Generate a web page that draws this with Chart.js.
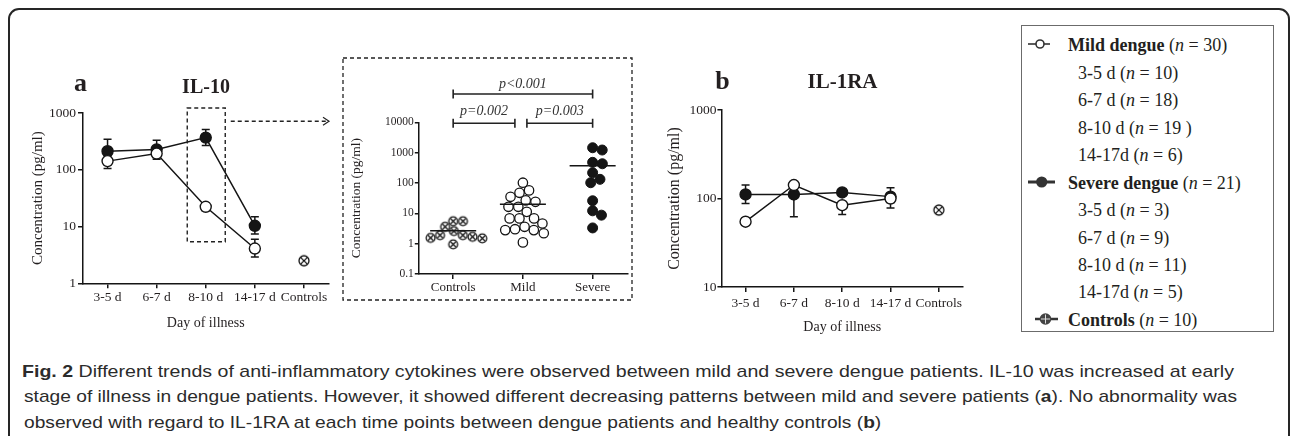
<!DOCTYPE html>
<html>
<head>
<meta charset="utf-8">
<script src="https://cdn.jsdelivr.net/npm/chart.js@4.4.1/dist/chart.umd.min.js"></script>
<style>
  html, body { margin: 0; padding: 0; background: #fff; }
  body { width: 1292px; height: 436px; position: relative; overflow: hidden; }
  .frame { position: absolute; left: 8px; top: 8px; width: 1282px; height: 480px; box-sizing: border-box;
           border: 2px solid #262626; border-radius: 11px; }
  canvas.cv { position: absolute; }
  #legendBox { position: absolute; left: 1021px; top: 25px; width: 253px; height: 307px; box-sizing: border-box;
               border: 1px solid #6b6b6b; }
  .row { position: absolute; white-space: nowrap; font-family: "Liberation Serif", "Times New Roman", serif;
         font-size: 18px; line-height: 20px; color: #231f20; }
  .cap { position: absolute; white-space: nowrap; font-family: "Liberation Sans Narrow", "Liberation Sans", sans-serif;
         font-size: 17px; line-height: 20px; color: #2b2b2b; transform-origin: 0 0; }
</style>
</head>
<body>
<div class="frame"></div>
<canvas class="cv" id="chartA" width="340" height="340" style="left:0;top:0"></canvas>
<canvas class="cv" id="chartInset" width="300" height="255" style="left:335px;top:50px"></canvas>
<canvas class="cv" id="chartB" width="330" height="340" style="left:640px;top:0"></canvas>
<div id="legendBox"></div>
<script>
// categories
const days = ['3-5 d', '6-7 d', '8-10 d', '14-17 d', 'Controls'];
const insetGroups = ['Controls', 'Mild', 'Severe'];

// IL-10 (pg/ml) by day of illness, mean with error bars
const il10Mild = [142, 193, 22.3, 4.1];
const il10MildHi = [175, 232, 26, 6.0];
const il10MildLo = [105, 153, 19, 2.9];
const il10Severe = [212, 228, 369, 10.3];
const il10SevereHi = [345, 331, 510, 14.9];
const il10SevereLo = [150, 165, 267, 7.4];
const il10Controls = 2.5;

// IL-10 at 8-10 d, individual patients
const insetControls = [5.5, 3.6, 5.5, 2.6, 1.9, 1.55, 0.95, 1.5, 1.68, 1.9];
const insetMild = [102, 47.5, 57, 35, 26.7, 24, 16.4, 16.4, 11.2, 6.8, 6.8, 6.8, 4.6, 3.0, 2.8, 3.6, 2.8, 2.2, 1.1];
const insetSevere = [1220, 1450, 479, 430, 217, 132, 102, 25.9, 12.1, 8.7, 3.3];
const pTests = [
  { from: 0, to: 1, text: 'p=0.002' },
  { from: 1, to: 2, text: 'p=0.003' },
  { from: 0, to: 2, text: 'p<0.001' }
];

// IL-1RA (pg/ml)
const raMild = [54.7, 142, 84, 100];
const raMildHi = [58, 150, 92, 110];
const raMildLo = [51, 132, 66, 90];
const raSevere = [111, 111, 117, 105];
const raSevereHi = [142, 126, 128, 132];
const raSevereLo = [88, 62, 108, 78];
const raControls = 74;

const aTicks = [1, 10, 100, 1000];
const bTicks = [10, 100, 1000];
const insetTicks = [0.1, 1, 10, 100, 1000, 10000];

const legendGroups = [
  { name: 'Mild dengue', n: 30, icon: 'mild', items: [['3-5 d', '10'], ['6-7 d', '18'], ['8-10 d', '19 '], ['14-17d', '6']] },
  { name: 'Severe dengue', n: 21, icon: 'severe', items: [['3-5 d', '3'], ['6-7 d', '9'], ['8-10 d', '11'], ['14-17d', '5']] },
  { name: 'Controls', n: 10, icon: 'controls', items: [] }
];

const serif = '"Liberation Serif", "Times New Roman", serif';
const ink = '#231f20';
const axisInk = '#151515';

// circle with a cross, used for the controls
function ctrlMarker(r) {
  const c = document.createElement('canvas');
  const s = Math.ceil(r * 2 + 4);
  c.width = c.height = s;
  const g = c.getContext('2d');
  const m = s / 2;
  g.fillStyle = '#fff'; g.strokeStyle = '#111'; g.lineWidth = 1.3;
  g.beginPath(); g.arc(m, m, r, 0, Math.PI * 2); g.fill(); g.stroke();
  const d = r * 0.68;
  g.beginPath();
  g.moveTo(m - d, m - d); g.lineTo(m + d, m + d);
  g.moveTo(m + d, m - d); g.lineTo(m - d, m + d);
  g.stroke();
  return c;
}

// simple beeswarm so the dots of one group don't sit on top of each other
function swarm(values, slot, pxPerUnit, pxPerDecade, dia) {
  const placed = [];
  const out = new Array(values.length);
  const order = values.map((v, i) => i).sort((a, b) => values[b] - values[a]);
  order.forEach(i => {
    const y = Math.log10(values[i]) * pxPerDecade;
    const cands = [0];
    placed.forEach(p => {
      const dy = Math.abs(p.y - y);
      if (dy < dia) {
        const w = Math.sqrt(dia * dia - dy * dy);
        cands.push(p.x + w, p.x - w);
      }
    });
    cands.sort((a, b) => Math.abs(a) - Math.abs(b));
    const x = cands.find(c => placed.every(p => Math.hypot(p.x - c, p.y - y) >= dia - 0.01));
    placed.push({ x, y });
    out[i] = { x: slot + x / pxPerUnit, y: values[i] };
  });
  return out;
}

const mean = arr => arr.reduce((s, v) => s + v, 0) / arr.length;

const errorBars = {
  id: 'errorBars',
  beforeDatasetsDraw(chart, args, opts) {
    const ctx = chart.ctx, y = chart.scales.y;
    ctx.save();
    ctx.strokeStyle = axisInk; ctx.lineWidth = 1.5;
    (opts.bars || []).forEach(b => {
      chart.getDatasetMeta(b.dataset).data.forEach((pt, i) => {
        if (b.hi[i] == null) return;
        const x = pt.x, yh = y.getPixelForValue(b.hi[i]), yl = y.getPixelForValue(b.lo[i]);
        ctx.beginPath();
        ctx.moveTo(x, yh); ctx.lineTo(x, yl);
        ctx.moveTo(x - 4, yh); ctx.lineTo(x + 4, yh);
        ctx.moveTo(x - 4, yl); ctx.lineTo(x + 4, yl);
        ctx.stroke();
      });
    });
    ctx.restore();
  }
};

const panelText = {
  id: 'panelText',
  afterDraw(chart, args, opts) {
    const ctx = chart.ctx;
    ctx.save();
    ctx.fillStyle = ink; ctx.textAlign = 'center'; ctx.textBaseline = 'alphabetic';
    (opts.items || []).forEach(t => {
      ctx.font = t.font;
      ctx.fillText(t.text, t.x, t.y);
    });
    ctx.restore();
  }
};

// dashed zoom box round 8-10 d and the arrow towards the inset
const zoomBox = {
  id: 'zoomBox',
  afterDraw(chart) {
    const { ctx, chartArea: ca, scales: { x, y } } = chart;
    const xc = x.getPixelForValue(2);
    const top = ca.top - 5, bottom = y.getPixelForValue(5.4);
    ctx.save();
    ctx.strokeStyle = '#222'; ctx.lineWidth = 1.4; ctx.setLineDash([4, 3]);
    ctx.strokeRect(xc - 18.5, top, 38, bottom - top);
    const ay = ca.top + 8.3, ax1 = ca.right + 0.5;
    ctx.beginPath(); ctx.moveTo(xc + 25, ay); ctx.lineTo(ax1, ay); ctx.stroke();
    ctx.setLineDash([]); ctx.lineWidth = 1.2;
    ctx.beginPath();
    ctx.moveTo(ax1 - 6, ay - 4); ctx.lineTo(ax1, ay); ctx.lineTo(ax1 - 6, ay + 4);
    ctx.stroke();
    ctx.restore();
  }
};

const insetDeco = {
  id: 'insetDeco',
  afterDraw(chart) {
    const { ctx, chartArea: ca, scales: { x } } = chart;
    ctx.save();
    ctx.strokeStyle = '#222'; ctx.lineWidth = 1.3; ctx.setLineDash([4, 3]);
    ctx.strokeRect(ca.left - 75.3, ca.top - 64.3, (ca.right + 4.5) - (ca.left - 75.3), (ca.bottom + 26) - (ca.top - 64.3));
    ctx.setLineDash([]);
    ctx.lineWidth = 1.6; ctx.strokeStyle = '#222';
    ctx.fillStyle = '#333'; ctx.font = 'italic 14px ' + serif; ctx.textAlign = 'center';
    pTests.forEach(p => {
      const wide = p.to - p.from > 1;
      const yy = wide ? ca.top - 28.3 : ca.top + 1;
      let x0 = x.getPixelForValue(p.from), x1 = x.getPixelForValue(p.to);
      if (!wide && p.from === 0) x1 -= 8;
      if (!wide && p.from === 1) x0 += 4;
      ctx.beginPath();
      ctx.moveTo(x0, yy); ctx.lineTo(x1, yy);
      ctx.moveTo(x0, yy - 4.5); ctx.lineTo(x0, yy + 4.5);
      ctx.moveTo(x1, yy - 4.5); ctx.lineTo(x1, yy + 4.5);
      ctx.stroke();
      ctx.fillText(p.text, (x0 + x1) / 2, yy - (wide ? 6 : 8));
    });
    ctx.restore();
  }
};

function axisX(opt) {
  return {
    type: 'category', offset: true,
    grid: { display: true, drawOnChartArea: false, offset: false, tickLength: 5, color: axisInk, lineWidth: 1.5 },
    border: { color: axisInk, width: 1.5 },
    ticks: { font: { family: serif, size: 13.5 }, color: ink, padding: opt.pad, maxRotation: 0, autoSkip: false },
    title: { display: true, text: 'Day of illness', font: { family: serif, size: 14 }, color: ink, padding: { top: 0, bottom: opt.titlePad } },
    afterFit: s => { s.height = opt.height; }
  };
}

function axisLog(opt) {
  return {
    type: 'logarithmic', min: opt.ticks[0], max: opt.ticks[opt.ticks.length - 1],
    afterBuildTicks: s => { s.ticks = opt.ticks.map(v => ({ value: v })); },
    grid: { display: true, drawOnChartArea: false, tickLength: opt.tickLen, color: axisInk, lineWidth: 1.5 },
    border: { color: axisInk, width: 1.5 },
    ticks: { callback: v => String(v), font: { family: serif, size: opt.size }, color: ink, padding: opt.pad },
    title: { display: true, text: 'Concentration (pg/ml)', font: { family: serif, size: opt.titleSize }, color: ink, padding: { top: opt.titlePad, bottom: 0 } },
    afterFit: s => { s.width = opt.width; }
  };
}

function lineSet(label, data, filled) {
  return {
    label, data, borderColor: axisInk, borderWidth: 1.5, tension: 0,
    pointRadius: 5.5, pointBorderWidth: 1.4, pointBorderColor: axisInk,
    pointBackgroundColor: filled ? axisInk : '#fff'
  };
}

const base = { responsive: false, animation: false, maintainAspectRatio: false };

// panel a: IL-10
new Chart(document.getElementById('chartA'), {
  type: 'line',
  data: {
    labels: days,
    datasets: [
      lineSet('Mild dengue', il10Mild, false),
      lineSet('Severe dengue', il10Severe, true),
      { label: 'Controls', data: [null, null, null, null, il10Controls], showLine: false, pointStyle: ctrlMarker(5), pointRadius: 6 }
    ]
  },
  options: {
    ...base,
    layout: { padding: { left: 28, right: 11.5, top: 113, bottom: 0 } },
    scales: {
      x: axisX({ pad: 1, height: 56.7, titlePad: 8.6 }),
      y: axisLog({ ticks: aTicks, tickLen: 5, size: 13.5, pad: 2, titleSize: 15, titlePad: 1, width: 55 })
    },
    plugins: {
      legend: { display: false }, tooltip: { enabled: false },
      errorBars: { bars: [{ dataset: 0, hi: il10MildHi, lo: il10MildLo }, { dataset: 1, hi: il10SevereHi, lo: il10SevereLo }] },
      panelText: { items: [
        { text: 'a', x: 80.5, y: 91, font: 'bold 26px ' + serif },
        { text: 'IL-10', x: 206, y: 92.7, font: 'bold 20px ' + serif }
      ] }
    }
  },
  plugins: [errorBars, panelText, zoomBox]
});

// inset: individual values at 8-10 d
const insetPx = { unit: 69.5, decade: 30.3, dia: 9.8 };
new Chart(document.getElementById('chartInset'), {
  type: 'scatter',
  data: {
    datasets: [
      { label: 'Controls', data: swarm(insetControls, 0, insetPx.unit, insetPx.decade, insetPx.dia), pointStyle: ctrlMarker(4.4), pointRadius: 5 },
      { label: 'Mild', data: swarm(insetMild, 1, insetPx.unit, insetPx.decade, insetPx.dia), pointRadius: 4.7, pointBorderWidth: 1.3, pointBorderColor: axisInk, pointBackgroundColor: '#fff' },
      { label: 'Severe', data: swarm(insetSevere, 2, insetPx.unit, insetPx.decade, insetPx.dia), pointRadius: 5, pointBorderWidth: 1, pointBorderColor: axisInk, pointBackgroundColor: axisInk },
      ...[insetControls, insetMild, insetSevere].map((vals, i) => ({
        type: 'line', data: [{ x: i - 0.33, y: mean(vals) }, { x: i + 0.33, y: mean(vals) }],
        borderColor: axisInk, borderWidth: 1.5, pointRadius: 0, order: -1
      }))
    ]
  },
  options: {
    ...base,
    layout: { padding: { left: 12, right: 7.5, top: 72.3, bottom: 0 } },
    scales: {
      x: {
        type: 'linear', min: -0.5, max: 2.5,
        afterBuildTicks: s => { s.ticks = insetGroups.map((g, i) => ({ value: i })); },
        grid: { display: true, drawOnChartArea: false, tickLength: 5, color: axisInk, lineWidth: 1.5 },
        border: { color: axisInk, width: 1.5 },
        ticks: { callback: v => insetGroups[v], font: { family: serif, size: 13 }, color: ink, padding: 1, maxRotation: 0 },
        afterFit: s => { s.height = 31; }
      },
      y: axisLog({ ticks: insetTicks, tickLen: 3.5, size: 11.5, pad: 1, titleSize: 13.5, titlePad: 1, width: 71.3 })
    },
    plugins: { legend: { display: false }, tooltip: { enabled: false } }
  },
  plugins: [insetDeco]
});

// panel b: IL-1RA
new Chart(document.getElementById('chartB'), {
  type: 'line',
  data: {
    labels: days,
    datasets: [
      lineSet('Mild dengue', raMild, false),
      lineSet('Severe dengue', raSevere, true),
      { label: 'Controls', data: [null, null, null, null, raControls], showLine: false, pointStyle: ctrlMarker(5), pointRadius: 6 }
    ]
  },
  options: {
    ...base,
    layout: { padding: { left: 24, right: 5.7, top: 110, bottom: 0 } },
    scales: {
      x: axisX({ pad: 3, height: 53, titlePad: 4.6 }),
      y: axisLog({ ticks: bTicks, tickLen: 4, size: 13.5, pad: 1, titleSize: 16, titlePad: 1.4, width: 57.4 })
    },
    plugins: {
      legend: { display: false }, tooltip: { enabled: false },
      errorBars: { bars: [{ dataset: 0, hi: raMildHi, lo: raMildLo }, { dataset: 1, hi: raSevereHi, lo: raSevereLo }] },
      panelText: { items: [
        { text: 'b', x: 82.5, y: 89.3, font: 'bold 26px ' + serif },
        { text: 'IL-1RA', x: 202.5, y: 88.3, font: 'bold 21px ' + serif }
      ] }
    }
  },
  plugins: [errorBars, panelText]
});

// legend (right hand box)
function legendIcon(kind) {
  const c = document.createElement('canvas');
  c.width = 40; c.height = 16;
  c.style.position = 'absolute';
  const g = c.getContext('2d');
  const m = 8;
  g.strokeStyle = '#333';
  if (kind === 'mild') {
    g.lineWidth = 1.6;
    g.beginPath(); g.moveTo(3, m); g.lineTo(25, m); g.stroke();
    g.fillStyle = '#fff'; g.beginPath(); g.arc(15, m, 4, 0, Math.PI * 2); g.fill(); g.stroke();
  } else if (kind === 'severe') {
    g.lineWidth = 3;
    g.beginPath(); g.moveTo(3, m); g.lineTo(30, m); g.stroke();
    g.fillStyle = '#333'; g.beginPath(); g.arc(16.7, m, 5.6, 0, Math.PI * 2); g.fill();
  } else {
    g.lineWidth = 2.5;
    g.beginPath(); g.moveTo(10, m); g.lineTo(33, m); g.stroke();
    g.fillStyle = '#444'; g.beginPath(); g.arc(20.5, m, 5.8, 0, Math.PI * 2); g.fill();
    g.strokeStyle = '#ddd'; g.lineWidth = 1;
    g.beginPath(); g.moveTo(20.5, m - 4.5); g.lineTo(20.5, m + 4.5); g.moveTo(16, m); g.lineTo(25, m); g.stroke();
  }
  return c;
}

let row = 0;
legendGroups.forEach(grp => {
  const add = (html, left) => {
    const base = 51.4 + row * 27.46;
    const d = document.createElement('div');
    d.className = 'row';
    d.style.left = left + 'px';
    d.style.top = (base - 16.1) + 'px';
    d.innerHTML = html;
    document.body.appendChild(d);
    row++;
    return base;
  };
  const b = add('<b>' + grp.name + '</b> (<i>n</i> = ' + grp.n + ')', 1068);
  const ic = legendIcon(grp.icon);
  ic.style.left = '1025px';
  ic.style.top = (b - 7 - 8) + 'px';
  document.body.appendChild(ic);
  grp.items.forEach(it => add(it[0] + ' (<i>n</i> = ' + it[1] + ')', 1078));
});

// figure caption: lines 1 and 2 are justified to the right margin, line 3 uses line 2's scale
const captionLines = [
  { html: '<b>Fig. 2</b> Different trends of anti-inflammatory cytokines were observed between mild and severe dengue patients. IL-10 was increased at early', left: 22, right: 1234, top: 361.5 },
  { html: 'stage of illness in dengue patients. However, it showed different decreasing patterns between mild and severe patients (<b>a</b>). No abnormality was', left: 24, right: 1237, top: 387 },
  { html: 'observed with regard to IL-1RA at each time points between dengue patients and healthy controls (<b>b</b>)', left: 24, right: null, top: 412.5 }
];
let capScale = 1;
captionLines.forEach(l => {
  const d = document.createElement('div');
  d.className = 'cap';
  d.style.left = l.left + 'px';
  d.style.top = l.top + 'px';
  d.innerHTML = l.html;
  document.body.appendChild(d);
  const w = d.getBoundingClientRect().width;
  if (l.right != null) capScale = (l.right - l.left) / w;
  d.style.transform = 'scaleX(' + capScale + ')';
});
</script>
</body>
</html>
